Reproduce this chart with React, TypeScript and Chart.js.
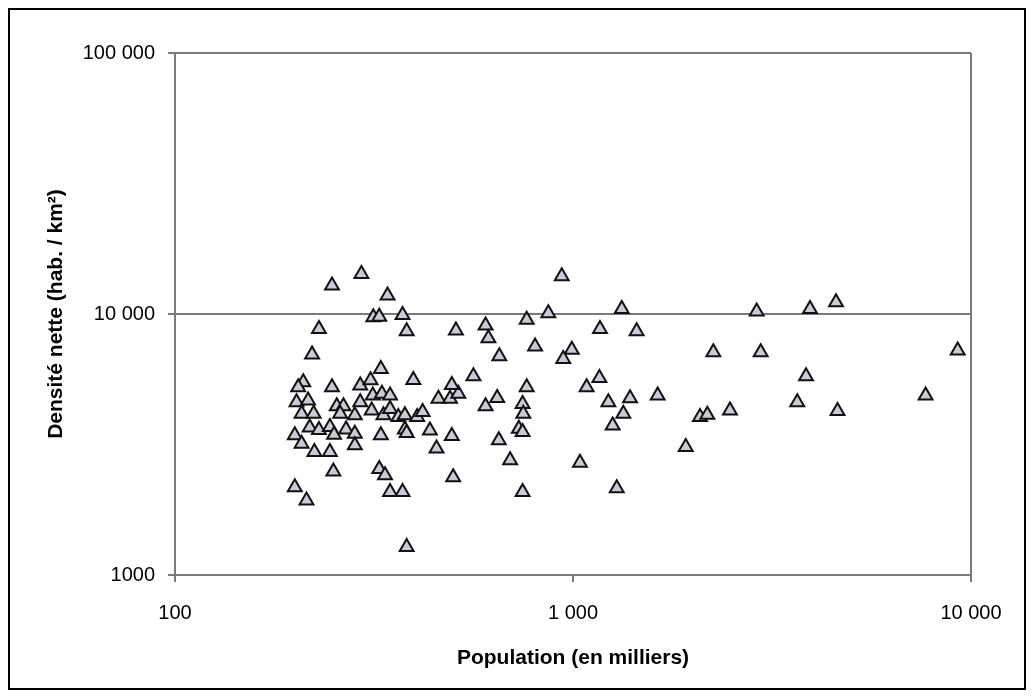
import React, { useEffect, useRef } from 'react';
import { Chart, registerables } from 'chart.js';

Chart.register(...registerables);

// Population (thousands)
const population = [
  248, 294, 230, 221, 210, 204, 248, 202, 216, 208,
  223, 255, 265, 260, 218, 230, 245, 251, 269, 200,
  208, 224, 245, 250, 200, 214, 283, 283, 292, 310,
  292, 283, 312, 314, 315, 326, 329, 331, 334, 347,
  347, 329, 326, 337, 347, 373, 382, 342, 373, 382,
  397, 364, 378, 406, 419, 378, 382, 437, 459, 491,
  515, 496, 496, 454, 500, 508, 562, 603, 613, 653,
  603, 645, 651, 695, 731, 747, 747, 750, 765, 765,
  747, 937, 867, 1326, 1169, 1445, 2894, 803, 993, 945,
  2252, 2962, 1165, 1082, 1227, 1391, 1338, 1632, 1258, 2085,
  2175, 2480, 1920, 1041, 1288, 3940, 4580, 9260, 3850, 3660,
  4620, 7690,
];

// Net density (inhabitants / km²)
const density = [
  12850, 14240, 8770, 6990, 5480, 5245, 5245, 4595, 4665, 4146,
  4146, 4436, 4436, 4146, 3670, 3590, 3690, 3450, 3610, 3430,
  3180, 2960, 2960, 2490, 2170, 1930, 3475, 3140, 5325, 5580,
  4595, 4090, 4270, 4875, 9720, 9765, 6150, 4945, 4090, 4875,
  4330, 3430, 2550, 2410, 2080, 2080, 1280, 11770, 9920, 8590,
  5590, 4030, 4090, 4030, 4210, 3610, 3500, 3580, 4730, 4730,
  4945, 5350, 3405, 3050, 2370, 8650, 5780, 9040, 8080, 6890,
  4436, 4770, 3280, 2750, 3630, 3530, 4525, 4146, 5245, 9510,
  2080, 13950, 10070, 10460, 8770, 8590, 10220, 7510, 7290, 6730,
  7140, 7140, 5680, 5245, 4595, 4760, 4146, 4875, 3740, 4030,
  4110, 4270, 3090, 2690, 2150, 10460, 11100, 7250, 5780, 4595,
  4246, 4875,
];

const xTicks = [100, 1000, 10000];
const xTickLabels = ['100', '1 000', '10 000'];
const yTicks = [1000, 10000, 100000];
const yTickLabels = ['1000', '10 000', '100 000'];
const xTitle = 'Population (en milliers)';
const yTitle = 'Densité nette (hab. / km²)';

const FONT = '"Liberation Sans", Arial, Helvetica, sans-serif';
const GRAY = '#7a7a7a';

export default function App() {
  const ref = useRef<HTMLCanvasElement>(null);

  useEffect(() => {
    if (!ref.current) return;
    const points = population.map((x, i) => ({ x, y: density[i] }));
    const chart = new Chart(ref.current, {
      type: 'scatter',
      data: {
        datasets: [
          {
            data: points,
            pointStyle: 'triangle',
            pointRadius: 8,
            pointBackgroundColor: '#c9c9da',
            pointBorderColor: '#111111',
            pointBorderWidth: 2,
          },
        ],
      },
      options: {
        animation: false,
        responsive: false,
        events: [],
        layout: { padding: { left: 0, right: 53, top: 43, bottom: 0 } },
        plugins: {
          legend: { display: false },
          tooltip: { enabled: false },
        },
        scales: {
          x: {
            type: 'logarithmic',
            min: 100,
            max: 10000,
            afterBuildTicks: (s: any) => {
              s.ticks = xTicks.map((v) => ({ value: v }));
            },
            afterFit: (s: any) => {
              s.height = 113;
            },
            ticks: {
              callback: (v: any) => {
                const i = xTicks.indexOf(Number(v));
                return i >= 0 ? xTickLabels[i] : '';
              },
              font: { family: FONT, size: 20 },
              color: '#000',
              padding: 19,
              maxRotation: 0,
              autoSkip: false,
            },
            grid: {
              color: (c: any) =>
                c.tick && c.tick.value === 10000 ? GRAY : 'rgba(0,0,0,0)',
              tickColor: GRAY,
              tickLength: 7,
              lineWidth: 2,
            },
            border: { display: true, color: GRAY, width: 2 },
            title: {
              display: true,
              text: xTitle,
              font: { family: FONT, size: 21, weight: 'bold' },
              color: '#000',
              padding: { top: 0, bottom: 17 },
            },
          },
          y: {
            type: 'logarithmic',
            min: 1000,
            max: 100000,
            afterBuildTicks: (s: any) => {
              s.ticks = yTicks.map((v) => ({ value: v }));
            },
            afterFit: (s: any) => {
              s.width = 165;
            },
            ticks: {
              callback: (v: any) => {
                const i = yTicks.indexOf(Number(v));
                return i >= 0 ? yTickLabels[i] : '';
              },
              font: { family: FONT, size: 20 },
              color: '#000',
              padding: 13,
              autoSkip: false,
            },
            grid: {
              color: GRAY,
              tickColor: GRAY,
              tickLength: 7,
              lineWidth: 2,
            },
            border: { display: true, color: GRAY, width: 2 },
            title: {
              display: true,
              text: yTitle,
              font: { family: FONT, size: 21, weight: 'bold' },
              color: '#000',
              padding: { top: 34, bottom: 0 },
            },
          },
        },
      },
    } as any);
    return () => chart.destroy();
  }, []);

  return (
    <div
      style={{
        width: 1018,
        height: 682,
        border: '2px solid #000',
        boxSizing: 'border-box',
        background: '#fff',
      }}
    >
      <canvas ref={ref} width={1014} height={678} style={{ display: 'block' }} />
    </div>
  );
}
